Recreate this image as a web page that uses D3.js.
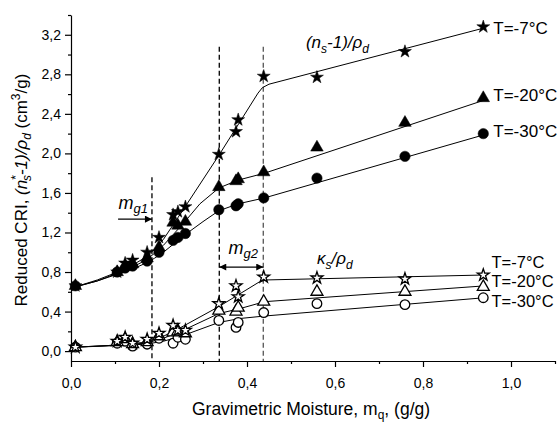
<!DOCTYPE html>
<html>
<head>
<meta charset="utf-8">
<script src="https://cdn.jsdelivr.net/npm/d3@7"></script>
<style>
  body { margin: 0; background: #fff; }
  svg text { font-family: "Liberation Sans", Arial, sans-serif; fill: #000; }
  .axis path, .axis line { stroke: #000; stroke-width: 1.2; }
</style>
</head>
<body>
<div id="chart"></div>
<script>
// moisture values (g/g) shared by all measured points
const moisture = [0.01, 0.105, 0.123, 0.14, 0.173, 0.2, 0.232, 0.243, 0.26, 0.336, 0.375, 0.38, 0.438, 0.559, 0.759, 0.937];

// (ns-1)/rho_d, filled markers
const nsT7  = [0.66, 0.80, 0.89, 0.92, 1.00, 1.15, 1.38, 1.41, 1.46, 1.99, 2.22, 2.34, 2.78, 2.77, 3.03, 3.28];
const nsT20 = [0.66, 0.80, 0.86, 0.88, 0.94, 1.05, 1.30, 1.27, 1.31, 1.66, 1.72, 1.74, 1.81, 2.06, 2.31, 2.56];
const nsT30 = [0.66, 0.80, 0.84, 0.86, 0.91, 1.00, 1.12, 1.15, 1.19, 1.43, 1.47, 1.49, 1.55, 1.75, 1.97, 2.20];

// kappa_s/rho_d, open markers
const kT7  = [0.04, 0.10, 0.14, 0.08, 0.12, 0.18, 0.26, 0.21, 0.21, 0.48, 0.66, 0.55, 0.75, 0.74, 0.73, 0.77];
const kT20 = [0.04, 0.09, 0.12, 0.07, 0.09, 0.15, 0.19, 0.20, 0.18, 0.41, 0.40, 0.44, 0.50, 0.60, 0.60, 0.65];
const kT30 = [0.04, 0.08, 0.10, 0.05, 0.07, 0.13, 0.08, 0.14, 0.12, 0.31, 0.24, 0.29, 0.39, 0.48, 0.47, 0.54];

// fitted curves [moisture, value]
const fitN7  = [[0.01,0.65],[0.06,0.72],[0.10,0.79],[0.14,0.87],[0.17,0.95],[0.19,1.03],[0.21,1.13],[0.255,1.43],[0.336,1.98],[0.425,2.61],[0.435,2.665],[0.45,2.70],[0.94,3.27]];
const fitN20 = [[0.01,0.65],[0.06,0.71],[0.10,0.78],[0.14,0.85],[0.17,0.92],[0.19,0.99],[0.21,1.07],[0.255,1.29],[0.293,1.49],[0.336,1.65],[0.38,1.73],[0.44,1.80],[0.94,2.54]];
const fitN30 = [[0.01,0.65],[0.06,0.71],[0.10,0.77],[0.14,0.83],[0.17,0.89],[0.19,0.94],[0.21,1.00],[0.26,1.18],[0.30,1.31],[0.336,1.42],[0.38,1.49],[0.44,1.55],[0.94,2.19]];
const fitK7  = [[0.01,0.04],[0.10,0.06],[0.17,0.09],[0.21,0.15],[0.25,0.24],[0.336,0.45],[0.384,0.58],[0.428,0.70],[0.445,0.72],[0.94,0.77]];
const fitK20 = [[0.01,0.04],[0.10,0.06],[0.17,0.08],[0.21,0.13],[0.25,0.20],[0.336,0.38],[0.384,0.43],[0.44,0.50],[0.94,0.66]];
const fitK30 = [[0.01,0.04],[0.10,0.055],[0.17,0.07],[0.21,0.10],[0.25,0.15],[0.336,0.29],[0.384,0.33],[0.44,0.355],[0.94,0.54]];

// threshold moistures
const mg1 = 0.184;
const mg2a = 0.337;
const mg2b = 0.437;

// ticks
const xTicksMajor = [0, 0.2, 0.4, 0.6, 0.8, 1.0];
const xTicksMinor = [0.1, 0.3, 0.5, 0.7, 0.9, 1.1];
const yTicksMajor = [0, 0.4, 0.8, 1.2, 1.6, 2.0, 2.4, 2.8, 3.2];
const yTicksMinor = [0.2, 0.6, 1.0, 1.4, 1.8, 2.2, 2.6, 3.0, 3.4];

const W = 560, H = 426;
const svg = d3.select("#chart").append("svg")
  .attr("width", W).attr("height", H)
  .style("background", "#fff");

const x = d3.scaleLinear().domain([0, 1.1]).range([71, 555]);
const y = d3.scaleLinear().domain([-0.1, 3.4]).range([361, 15]);

const fmt = d => d3.format(".1f")(d).replace(".", ",");

// arrow heads
const defs = svg.append("defs");
defs.append("marker").attr("id", "ah")
  .attr("viewBox", "0 0 10 10").attr("refX", 10).attr("refY", 5)
  .attr("markerWidth", 9).attr("markerHeight", 7).attr("markerUnits", "userSpaceOnUse")
  .attr("orient", "auto-start-reverse")
  .append("path").attr("d", "M0,0 L10,5 L0,10 z").attr("fill", "#000");

// axes
const yBase = y(-0.1);
svg.append("g").attr("class", "axis")
  .attr("transform", `translate(0,${yBase})`)
  .call(d3.axisBottom(x).tickValues(xTicksMajor).tickSize(6).tickSizeOuter(0).tickFormat(fmt))
  .call(g => g.selectAll("text").attr("font-size", 14).attr("dy", "1.3em"));
svg.append("g").attr("class", "axis")
  .attr("transform", `translate(0,${yBase})`)
  .call(d3.axisBottom(x).tickValues(xTicksMinor).tickSize(3).tickSizeOuter(0).tickFormat(""))
  .call(g => g.select(".domain").remove());

svg.append("g").attr("class", "axis")
  .attr("transform", `translate(${x(0)},0)`)
  .call(d3.axisLeft(y).tickValues(yTicksMajor).tickSize(6).tickSizeOuter(0).tickFormat(fmt))
  .call(g => g.selectAll("text").attr("font-size", 14).attr("x", -10));
svg.append("g").attr("class", "axis")
  .attr("transform", `translate(${x(0)},0)`)
  .call(d3.axisLeft(y).tickValues(yTicksMinor).tickSize(3).tickSizeOuter(0).tickFormat(""))
  .call(g => g.select(".domain").remove());
svg.selectAll(".axis text").attr("font-family", "Liberation Sans, Arial, sans-serif");

// dashed vertical lines
const vlines = [
  { m: mg1, top: 1.76, color: "#000" },
  { m: mg2a, top: 3.08, color: "#000" },
  { m: mg2b, top: 3.08, color: "#555" }
];
svg.selectAll(".vline").data(vlines).enter().append("line")
  .attr("x1", d => x(d.m)).attr("x2", d => x(d.m))
  .attr("y1", d => y(d.top)).attr("y2", yBase)
  .attr("stroke", d => d.color).attr("stroke-width", 1.3)
  .attr("stroke-dasharray", "5,3");

// fitted curves
const line = d3.line().x(d => x(d[0])).y(d => y(d[1])).curve(d3.curveLinear);
[fitN7, fitN20, fitN30, fitK7, fitK20, fitK30].forEach(f => {
  svg.append("path").attr("d", line(f))
    .attr("fill", "none").attr("stroke", "#000").attr("stroke-width", 1)
    .attr("stroke-linejoin", "round");
});

// markers
const series = [
  { vals: nsT30, type: d3.symbolCircle, size: 85, open: false },
  { vals: nsT20, type: d3.symbolTriangle, size: 68, open: false },
  { vals: nsT7,  type: d3.symbolStar, size: 52, open: false },
  { vals: kT30,  type: d3.symbolCircle, size: 72, open: true },
  { vals: kT20,  type: d3.symbolTriangle, size: 62, open: true },
  { vals: kT7,   type: d3.symbolStar, size: 44, open: true }
];
series.forEach(s => {
  svg.append("g").selectAll("path")
    .data(moisture.map((m, i) => [m, s.vals[i]]))
    .enter().append("path")
    .attr("transform", d => `translate(${x(d[0])},${y(d[1])})`)
    .attr("d", d3.symbol().type(s.type).size(s.size))
    .attr("fill", s.open ? "#fff" : "#000")
    .attr("stroke", "#000")
    .attr("stroke-width", s.open ? 1.3 : 0.5);
});

// arrows for mg1 and mg2
svg.append("line")
  .attr("x1", x(0.107)).attr("x2", x(mg1))
  .attr("y1", y(1.335)).attr("y2", y(1.335))
  .attr("stroke", "#000").attr("stroke-width", 1.2)
  .attr("marker-end", "url(#ah)");
svg.append("line")
  .attr("x1", x(mg2a)).attr("x2", x(mg2b))
  .attr("y1", y(0.85)).attr("y2", y(0.85))
  .attr("stroke", "#000").attr("stroke-width", 1.2)
  .attr("marker-start", "url(#ah)").attr("marker-end", "url(#ah)");

// text helper: tspans with italic / size / shift
function richText(sel, parts) {
  parts.forEach(p => {
    const t = sel.append("tspan").text(p.t);
    if (p.i) t.attr("font-style", "italic");
    if (p.dy) t.attr("dy", p.dy);
    if (p.dx) t.attr("dx", p.dx);
    if (p.fs) t.attr("font-size", p.fs);
  });
}

// m_g1, m_g2
const mg1Text = svg.append("text").attr("x", x(0.108)).attr("y", y(1.44)).attr("font-size", 18);
richText(mg1Text, [{ t: "m", i: true }, { t: "g1", i: true, fs: 13, dy: 4 }]);
const mg2Text = svg.append("text").attr("x", x(0.358)).attr("y", y(0.98)).attr("font-size", 18);
richText(mg2Text, [{ t: "m", i: true }, { t: "g2", i: true, fs: 13, dy: 4 }]);

// series annotations
const nsLabel = svg.append("text").attr("x", x(0.534)).attr("y", y(3.07)).attr("font-size", 17);
richText(nsLabel, [{ t: "(n", i: true }, { t: "s", i: true, fs: 12, dy: 5 },
  { t: "-1)/ρ", i: true, dy: -5 }, { t: "d", i: true, fs: 12, dy: 5 }]);
const kLabel = svg.append("text").attr("x", x(0.559)).attr("y", y(0.88)).attr("font-size", 17);
richText(kLabel, [{ t: "κ", i: true }, { t: "s", i: true, fs: 12, dy: 5 },
  { t: "/ρ", i: true, dy: -5 }, { t: "d", i: true, fs: 12, dy: 5 }]);

// temperature labels
const tLabels = [
  { t: "T=-7°C", v: 3.22, m: 0.937, fs: 17 },
  { t: "T=-20°C", v: 2.54, m: 0.937, fs: 17 },
  { t: "T=-30°C", v: 2.18, m: 0.937, fs: 17 },
  { t: "T=-7°C", v: 0.855, m: 0.933, fs: 16.5 },
  { t: "T=-20°C", v: 0.655, m: 0.933, fs: 16.5 },
  { t: "T=-30°C", v: 0.46, m: 0.933, fs: 16.5 }
];
svg.selectAll(".tlab").data(tLabels).enter().append("text")
  .attr("x", d => x(d.m) + 10).attr("y", d => y(d.v) + 1)
  .attr("font-size", d => d.fs).text(d => d.t);

// axis titles
const xTitle = svg.append("text").attr("x", 311).attr("y", 415)
  .attr("text-anchor", "middle").attr("font-size", 17.5);
richText(xTitle, [{ t: "Gravimetric Moisture, m" }, { t: "q", fs: 12, dy: 4 }, { t: ", (g/g)", dy: -4 }]);

const yTitle = svg.append("text")
  .attr("transform", "translate(27,190) rotate(-90)")
  .attr("text-anchor", "middle").attr("font-size", 17);
richText(yTitle, [
  { t: "Reduced CRI, " },
  { t: "(n", i: true },
  { t: "*", fs: 12, dy: -7 },
  { t: "s", i: true, fs: 12, dy: 11, dx: -6 },
  { t: "-1)/ρ", i: true, dy: -4 },
  { t: "d", i: true, fs: 12, dy: 4 },
  { t: " (cm", dy: -4 },
  { t: "3", fs: 12, dy: -7 },
  { t: "/g)", dy: 7 }
]);
</script>
</body>
</html>
